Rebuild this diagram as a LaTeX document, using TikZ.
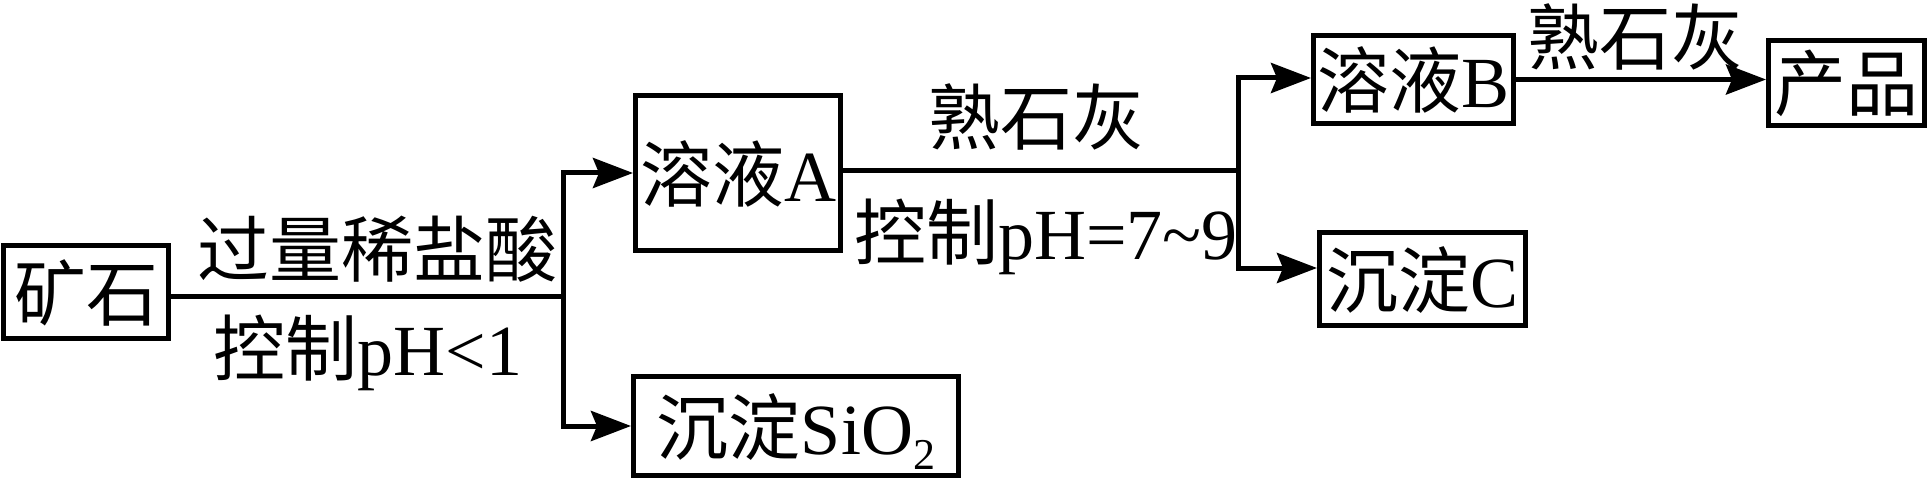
\documentclass[tikz,border=0pt]{standalone}
\usepackage{fontspec}
\setmainfont{Liberation Serif}
\newfontfamily\cjk{Noto Sans CJK SC}
\usetikzlibrary{arrows.meta}
\begin{document}
\begin{tikzpicture}[x=1pt,y=-1pt,
  txt/.style={font=\fontsize{72}{80}\selectfont},
  box/.style={txt,draw,line width=5pt,inner sep=0pt,text height=59pt,text depth=3pt},
  lbl/.style={txt,inner sep=0pt,anchor=base},
  link/.style={line width=5pt},
  flow/.style={line width=5pt,-{Stealth[length=40pt,width=30pt,inset=6pt]}}]
\useasboundingbox (0,0) rectangle (1929,481);
\fill[white] (0,0) rectangle (1929,481);
% boxes
\node[box,minimum width=165pt,minimum height=93pt] (ore) at (86,292) {\cjk 矿石};
\node[box,minimum width=205pt,minimum height=155pt] (solA) at (738,173) {{\cjk 溶液}A};
\node[box,minimum width=325pt,minimum height=99pt] (sio2) at (796,426) {{\cjk 沉淀}SiO\raisebox{-0.22em}{\fontsize{44}{48}\selectfont 2}};
\node[box,minimum width=200pt,minimum height=88pt] (solB) at (1413.5,79.5) {{\cjk 溶液}B};
\node[box,minimum width=206pt,minimum height=93pt] (preC) at (1422.5,279) {{\cjk 沉淀}C};
\node[box,minimum width=156pt,minimum height=85pt] (prod) at (1846.5,83) {\cjk 产品};
% junctions
\coordinate (j1) at (563,296);
\coordinate (j2) at (1238,171);
% connectors
\draw[link] (ore.east |- j1) -- (j1);
\draw[flow] (j1) |- (solA.west);
\draw[flow] (j1) |- (sio2.west);
\draw[link] (solA.east |- j2) -- (j2);
\draw[flow] (j2) |- ([yshift=1.5pt]solB.west);
\draw[flow] (j2) |- ([yshift=11pt]preC.west);
\draw[flow] (solB.east) -- (solB.east -| prod.west);
% labels
\node[lbl] (l1) at (377,276) {\cjk 过量稀盐酸};
\node[lbl] (l2) at (368,375) {{\cjk 控制}pH<1};
\node[lbl] (l3) at (1036,145) {\cjk 熟石灰};
\node[lbl] (l4) at (1046,259) {{\cjk 控制}pH=7\textasciitilde 9};
\node[lbl] (l5) at (1635,65) {\cjk 熟石灰};
\end{tikzpicture}
\end{document}
